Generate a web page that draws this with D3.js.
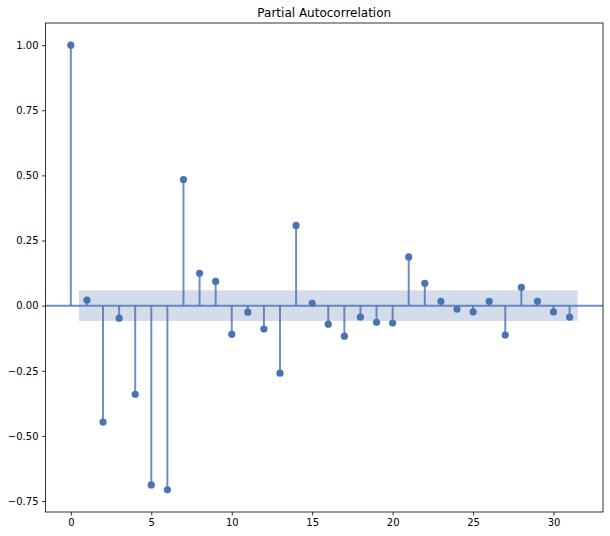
<!DOCTYPE html>
<html><head><meta charset="utf-8">
<script src="https://cdn.jsdelivr.net/npm/d3@7"></script>
<style>body{margin:0;background:#fff}svg{display:block}</style>
</head><body><svg id="c" width="610" height="536"></svg>
<script>
const lags = d3.range(0, 32);
const pacf = [1.0, 0.021, -0.447, -0.048, -0.340, -0.688, -0.707, 0.484, 0.124, 0.093,
  -0.110, -0.025, -0.090, -0.259, 0.308, 0.009, -0.071, -0.117, -0.044, -0.064,
  -0.067, 0.187, 0.086, 0.017, -0.013, -0.024, 0.017, -0.113, 0.070, 0.017,
  -0.024, -0.044];
const confBand = 0.0587;
const xTicks = [0, 5, 10, 15, 20, 25, 30];
const yTicks = [-0.75, -0.5, -0.25, 0, 0.25, 0.5, 0.75, 1.0];
const title = "Partial Autocorrelation";

const svg = d3.select("#c");
const L = 45.5, R = 603, T = 23, B = 512;
const x = d3.scaleLinear().domain([-1.575, 33.075]).range([L, R]);
const y = d3.scaleLinear().domain([-0.792, 1.085]).range([B, T]);
const blue = "#4C72B0";

// confidence band
svg.append("rect")
  .attr("x", x(lags[1] - 0.5)).attr("width", x(lags[lags.length-1] + 0.5) - x(lags[1] - 0.5))
  .attr("y", y(confBand)).attr("height", y(-confBand) - y(confBand))
  .attr("fill", blue).attr("fill-opacity", 0.25);

// stems
svg.append("g").selectAll("line").data(lags).join("line")
  .attr("x1", d => x(d)).attr("x2", d => x(d))
  .attr("y1", y(0)).attr("y2", (d, i) => y(pacf[i]))
  .attr("stroke", blue).attr("stroke-opacity", 0.8).attr("stroke-width", 2);

// zero line
svg.append("line").attr("x1", L).attr("x2", R).attr("y1", y(0)).attr("y2", y(0))
  .attr("stroke", blue).attr("stroke-opacity", 0.8).attr("stroke-width", 2);

// markers
svg.append("g").selectAll("circle").data(lags).join("circle")
  .attr("cx", d => x(d)).attr("cy", (d, i) => y(pacf[i])).attr("r", 3.6)
  .attr("fill", blue);

// axes
const fmtY = d3.format(".2f");
const gx = svg.append("g").attr("transform", `translate(0,${B})`)
  .call(d3.axisBottom(x).tickValues(xTicks).tickSize(3.5).tickPadding(3.5).tickFormat(d3.format("d")));
const gy = svg.append("g").attr("transform", `translate(${L},0)`)
  .call(d3.axisLeft(y).tickValues(yTicks).tickSize(3.5).tickPadding(3.5).tickFormat(fmtY));
[gx, gy].forEach(g => {
  g.select(".domain").remove();
  g.selectAll(".tick line").attr("stroke", "#000").attr("stroke-width", 0.8);
  g.selectAll(".tick text").attr("fill", "#000").style("font-family", "DejaVu Sans").style("font-size", "10px");
});

// frame
svg.append("rect").attr("x", L).attr("y", T).attr("width", R - L).attr("height", B - T)
  .attr("fill", "none").attr("stroke", "#000").attr("stroke-width", 0.8);

svg.append("text").attr("x", (L + R) / 2).attr("y", T - 6).attr("text-anchor", "middle")
  .style("font-family", "DejaVu Sans").style("font-size", "12px").text(title);
</script></body></html>
